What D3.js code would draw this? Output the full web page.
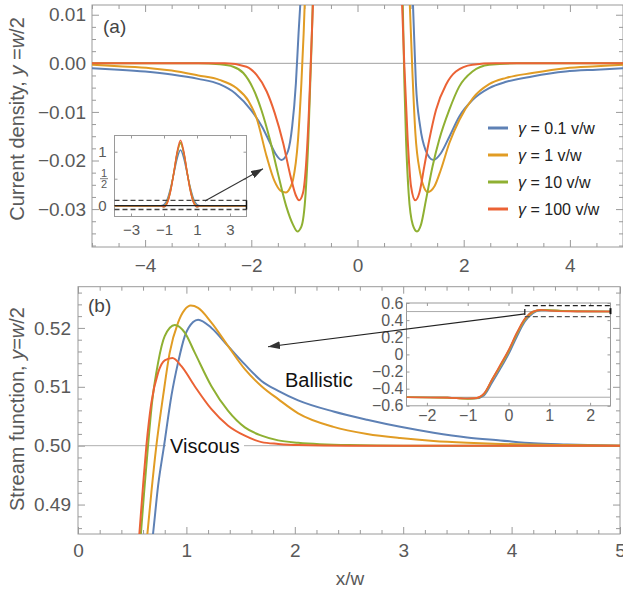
<!DOCTYPE html>
<meta charset="utf-8">
<script src="https://d3js.org/d3.v7.min.js"></script>
<style>
  body { margin: 0; background: #fff; }
  svg { display: block; font-family: "Liberation Sans", Arial, Helvetica, sans-serif; }
</style>
<body>
<svg id="chart" width="623" height="595"></svg>
<script>

// legend values (gamma in v/w) and Mathematica default colours
var gammas = ["0.1", "1", "10", "100"];
var colors = ["#5e81b5", "#e19c24", "#8fb032", "#eb6235"];

// (a) current density at y = w/2 : [x/w, j], left and right branches
var aBlueL = [[-5,-0.0010],[-4.5,-0.0013],[-4,-0.0017],[-3.5,-0.0023],[-3,-0.0032],[-2.6,-0.0043],[-2.3,-0.0062],
  [-2,-0.0097],[-1.8,-0.0130],[-1.65,-0.0163],[-1.55,-0.0185],[-1.43,-0.0199],[-1.31,-0.0181],[-1.23,-0.0130],
  [-1.16,-0.0041],[-1.11,0.0062],[-1.07,0.0135]];
var aBlueR = [[1.04,0.0135],[1.07,0.0045],[1.10,-0.0041],[1.18,-0.0130],[1.28,-0.0178],[1.43,-0.0199],[1.57,-0.0185],
  [1.73,-0.0151],[1.92,-0.0109],[2.17,-0.0075],[2.48,-0.0051],[2.8,-0.0038],[3.29,-0.0027],[3.92,-0.0017],
  [4.5,-0.0013],[5,-0.0010]];
var aOrangeL = [[-5,-0.0003],[-4.5,-0.0006],[-3.9,-0.0010],[-3.5,-0.0015],[-3,-0.0025],[-2.6,-0.0034],[-2.28,-0.0051],
  [-2.05,-0.0078],[-1.90,-0.0113],[-1.71,-0.0192],[-1.56,-0.0243],[-1.45,-0.0262],[-1.35,-0.0266],[-1.27,-0.0256],
  [-1.215,-0.0240],[-1.12,-0.0157],[-1.057,-0.0041],[-1.014,0.0062],[-0.99,0.0135]];
var aOrangeR = [[0.98,0.0135],[1.03,-0.0007],[1.09,-0.0144],[1.18,-0.0226],[1.25,-0.0255],[1.32,-0.0265],[1.45,-0.0253],
  [1.57,-0.0219],[1.73,-0.0164],[1.92,-0.0116],[2.17,-0.0072],[2.48,-0.0043],[2.8,-0.0030],[3.29,-0.0020],
  [3.92,-0.0010],[4.5,-0.0006],[5,-0.0003]];
var aGreenL = [[-5,0],[-3,0],[-2.6,-0.0002],[-2.34,-0.0007],[-2.15,-0.0020],[-1.97,-0.0051],[-1.81,-0.0096],
  [-1.65,-0.0157],[-1.50,-0.0226],[-1.34,-0.0295],[-1.215,-0.0332],[-1.133,-0.0346],[-1.057,-0.0336],
  [-0.977,-0.0267],[-0.926,-0.0157],[-0.89,-0.0041],[-0.858,0.0062],[-0.84,0.0135]];
var aGreenR = [[0.85,0.0135],[0.883,-0.0041],[0.914,-0.0157],[0.963,-0.0267],[1.04,-0.0332],[1.12,-0.0346],
  [1.196,-0.0332],[1.29,-0.0281],[1.414,-0.0212],[1.54,-0.0157],[1.728,-0.0096],[1.915,-0.0048],[2.165,-0.0017],
  [2.48,-0.0003],[3,0],[5,0]];
var aRedL = [[-5,0],[-2.5,0],[-2.09,-0.0007],[-1.90,-0.0024],[-1.71,-0.0058],[-1.56,-0.0102],[-1.40,-0.0164],
  [-1.26,-0.0233],[-1.164,-0.0271],[-1.10,-0.0282],[-1.027,-0.0267],[-0.963,-0.0199],[-0.914,-0.0096],
  [-0.883,-0.0007],[-0.85,0.0090],[-0.835,0.0135]];
var aRedR = [[0.835,0.0135],[0.883,-0.0007],[0.945,-0.0157],[1.008,-0.0253],[1.089,-0.0282],[1.164,-0.0267],
  [1.258,-0.0212],[1.352,-0.0157],[1.478,-0.0096],[1.666,-0.0044],[1.853,-0.0017],[2.165,-0.0003],[2.6,0],[5,0]];

// (a) inset: the whole profile, [x/w, j]
var iaBlue = [[-4,0],[-1.2,0],[-1,0.02],[-0.8,0.12],[-0.6,0.33],[-0.4,0.6],[-0.2,0.88],[0,1.03],
  [0.2,0.88],[0.4,0.6],[0.6,0.33],[0.8,0.12],[1,0.02],[1.2,0],[4,0]];
var iaOrange = [[-4,0],[-1.2,0],[-1,0],[-0.8,0.08],[-0.6,0.3],[-0.4,0.62],[-0.2,0.97],[0,1.15],
  [0.2,0.97],[0.4,0.62],[0.6,0.3],[0.8,0.08],[1,0],[1.2,0],[4,0]];
var iaGreen = [[-4,0],[-1.2,0],[-1,-0.02],[-0.8,0.06],[-0.6,0.28],[-0.4,0.62],[-0.2,0.98],[0,1.17],
  [0.2,0.98],[0.4,0.62],[0.6,0.28],[0.8,0.06],[1,-0.02],[1.2,0],[4,0]];
var iaRed = [[-4,0],[-1.2,0],[-1,-0.02],[-0.8,0.05],[-0.6,0.27],[-0.4,0.62],[-0.2,1.0],[0,1.21],
  [0.2,1.0],[0.4,0.62],[0.6,0.27],[0.8,0.05],[1,-0.02],[1.2,0],[4,0]];

// (b) stream function at y = w/2 : [x/w, psi]
var bBlue = [[0.645,0.478],[0.692,0.485],[0.739,0.4932],[0.794,0.5],[0.862,0.5085],[0.923,0.5141],[0.985,0.5186],
  [1.062,0.5210],[1.108,0.5214],[1.231,0.5200],[1.385,0.5169],[1.539,0.5138],[1.693,0.5110],[1.847,0.5093],
  [2.031,0.5077],[2.357,0.5058],[2.667,0.5044],[2.973,0.5032],[3.28,0.5022],[3.59,0.5014],[3.896,0.5009],
  [4.204,0.5004],[4.51,0.5002],[5,0.5]];
var bOrange = [[0.6,0.478],[0.64,0.485],[0.677,0.4921],[0.723,0.5],[0.785,0.5084],[0.846,0.5158],[0.923,0.5209],
  [0.985,0.5231],[1.04,0.5238],[1.108,0.5234],[1.231,0.5209],[1.385,0.5169],[1.539,0.5130],[1.693,0.5101],
  [1.847,0.5079],[2.031,0.5055],[2.357,0.5032],[2.667,0.5020],[2.97,0.5013],[3.28,0.5008],[3.59,0.5005],
  [3.9,0.5003],[4.5,0.5001],[5,0.5]];
var bGreen = [[0.555,0.478],[0.58,0.485],[0.615,0.4932],[0.646,0.5],[0.683,0.5073],[0.739,0.5141],[0.80,0.5186],
  [0.893,0.5205],[0.985,0.5192],[1.077,0.5158],[1.231,0.5101],[1.385,0.5059],[1.539,0.5031],[1.693,0.5017],
  [1.847,0.5009],[2.031,0.5005],[2.5,0.5001],[3,0.5],[5,0.5]];
var bRed = [[0.54,0.478],[0.566,0.485],[0.60,0.4932],[0.631,0.5],[0.677,0.5073],[0.739,0.5124],[0.80,0.5145],
  [0.871,0.5149],[0.954,0.5135],[1.077,0.5101],[1.231,0.5062],[1.385,0.5034],[1.539,0.5017],[1.693,0.5006],
  [1.847,0.5003],[2.031,0.5001],[2.5,0.5],[5,0.5]];

// (b) inset: whole profile
var ibBlue = [[-2.5,-0.5],[-1.5,-0.503],[-1,-0.512],[-0.8,-0.515],[-0.6,-0.48],[-0.4,-0.33],[-0.2,-0.17],[0,0],
  [0.2,0.2],[0.4,0.38],[0.6,0.48],[0.8,0.515],[1,0.516],[1.5,0.505],[2.5,0.5]];
var ibOrange = [[-2.5,-0.5],[-1.5,-0.505],[-1,-0.515],[-0.8,-0.51],[-0.6,-0.465],[-0.4,-0.3],[-0.2,-0.14],[0,0.03],
  [0.2,0.23],[0.4,0.4],[0.6,0.49],[0.8,0.52],[1,0.518],[1.5,0.505],[2.5,0.5]];
var ibGreen = [[-2.5,-0.5],[-1.5,-0.505],[-1,-0.52],[-0.8,-0.515],[-0.6,-0.46],[-0.4,-0.29],[-0.2,-0.13],[0,0.04],
  [0.2,0.24],[0.4,0.41],[0.6,0.5],[0.8,0.52],[1,0.515],[1.5,0.503],[2.5,0.5]];
var ibRed = [[-2.5,-0.5],[-1.5,-0.505],[-1,-0.515],[-0.8,-0.51],[-0.6,-0.455],[-0.4,-0.29],[-0.2,-0.12],[0,0.05],
  [0.2,0.25],[0.4,0.42],[0.6,0.5],[0.8,0.52],[1,0.51],[1.5,0.502],[2.5,0.5]];

// tick labels
var aXTicks = [-4, -2, 0, 2, 4];
var aYTicks = [0.01, 0, -0.01, -0.02, -0.03];
var aYLabels = ["0.01", "0.00", "\u22120.01", "\u22120.02", "\u22120.03"];
var bXTicks = [0, 1, 2, 3, 4, 5];
var bYTicks = [0.49, 0.50, 0.51, 0.52];
var iaXTicks = [-3, -1, 1, 3];
var iaYTicks = [0, 0.5, 1];
var ibXTicks = [-2, -1, 0, 1, 2];
var ibYTicks = [-0.6, -0.4, -0.2, 0, 0.2, 0.4, 0.6];

var svg = d3.select("#chart");
var gray = "#595959", frameCol = "#9a9a9a";

// scales
var ax = d3.scaleLinear().domain([-5, 5]).range([92, 623]);
var ay = d3.scaleLinear().domain([-0.0378, 0.012]).range([247, 5]);
var bx = d3.scaleLinear().domain([0, 5]).range([78, 620]);
var by = d3.scaleLinear().domain([0.485, 0.527]).range([534, 286.7]);
var iax = d3.scaleLinear().domain([-4, 4]).range([114.5, 246.5]);
var iay = d3.scaleLinear().domain([-0.2, 1.3]).range([216.5, 135.5]);
var ibx = d3.scaleLinear().domain([-2.5, 2.5]).range([406.5, 610.5]);
var iby = d3.scaleLinear().domain([-0.6, 0.6]).range([405.8, 303]);

var defs = svg.append("defs");
defs.append("marker").attr("id", "ah").attr("viewBox", "0 0 12 8")
  .attr("refX", 12).attr("refY", 4).attr("markerWidth", 12).attr("markerHeight", 8)
  .attr("markerUnits", "userSpaceOnUse").attr("orient", "auto")
  .append("path").attr("d", "M0,0L12,4L0,8Z").attr("fill", "#333");

function clip(id, x, y) {
  defs.append("clipPath").attr("id", id).append("rect")
    .attr("x", x.range()[0]).attr("y", y.range()[1])
    .attr("width", x.range()[1] - x.range()[0]).attr("height", y.range()[0] - y.range()[1]);
}

function minorOf(lo, hi, step, major) {
  return d3.range(lo, hi + step / 2, step).filter(function(v) {
    return !major.some(function(m) { return Math.abs(m - v) < 1e-9; });
  });
}

// frame with inward ticks on all four sides, labels bottom and left
function frame(x, y, o) {
  var g = svg.append("g");
  var x0 = x.range()[0], x1 = x.range()[1], y0 = y.range()[0], y1 = y.range()[1];
  g.append("rect").attr("x", x0).attr("y", y1).attr("width", x1 - x0).attr("height", y0 - y1)
    .attr("fill", o.fill || "none").attr("stroke", frameCol).attr("stroke-width", 1);
  function add(axis, tr, lab) {
    var s = g.append("g").attr("transform", tr).call(axis);
    s.attr("font-family", null).attr("font-size", o.fs).style("color", frameCol);
    s.selectAll("text").attr("fill", gray);
    s.select(".domain").remove();
    return s;
  }
  var bot = "translate(0," + y0 + ")", top = "translate(0," + y1 + ")";
  var lef = "translate(" + x0 + ",0)", rig = "translate(" + x1 + ",0)";
  o.xLab = add(d3.axisBottom(x).tickValues(o.xMaj).tickSize(-o.tMaj).tickPadding(o.xPad).tickFormat(o.xFmt), bot);
  add(d3.axisTop(x).tickValues(o.xMaj).tickSize(-o.tMaj).tickFormat(""), top);
  o.yLab = add(d3.axisLeft(y).tickValues(o.yMaj).tickSize(-o.tMaj).tickPadding(o.yPad).tickFormat(o.yFmt), lef);
  add(d3.axisRight(y).tickValues(o.yMaj).tickSize(-o.tMaj).tickFormat(""), rig);
  if (o.xMin) {
    add(d3.axisBottom(x).tickValues(o.xMin).tickSize(-o.tMin).tickFormat(""), bot);
    add(d3.axisTop(x).tickValues(o.xMin).tickSize(-o.tMin).tickFormat(""), top);
  }
  if (o.yMin) {
    add(d3.axisLeft(y).tickValues(o.yMin).tickSize(-o.tMin).tickFormat(""), lef);
    add(d3.axisRight(y).tickValues(o.yMin).tickSize(-o.tMin).tickFormat(""), rig);
  }
  return g;
}

function curves(sets, x, y, clipId, w) {
  var line = d3.line().x(function(d) { return x(d[0]); }).y(function(d) { return y(d[1]); })
    .curve(d3.curveMonotoneX);
  svg.append("g").attr("clip-path", "url(#" + clipId + ")")
    .selectAll("path").data(sets).join("path")
    .attr("d", function(d) { return line(d.pts); })
    .attr("fill", "none").attr("stroke", function(d) { return colors[d.k]; })
    .attr("stroke-width", w).attr("stroke-linejoin", "round");
}

function hline(x, y, v, col, w, dash, xa, xb) {
  svg.append("line").attr("x1", x(xa === undefined ? x.domain()[0] : xa)).attr("x2", x(xb === undefined ? x.domain()[1] : xb))
    .attr("y1", y(v)).attr("y2", y(v)).attr("stroke", col).attr("stroke-width", w)
    .attr("stroke-dasharray", dash || null);
}

clip("cA", ax, ay); clip("cB", bx, by); clip("cIA", iax, iay); clip("cIB", ibx, iby);

// ---------- panel (a) ----------
frame(ax, ay, { xMaj: aXTicks, xMin: minorOf(-5, 5, 0.5, aXTicks), yMaj: aYTicks,
  yMin: minorOf(-0.0375, 0.01, 0.0025, aYTicks), tMaj: 7, tMin: 4, fs: 19, xPad: 12, yPad: 6,
  xFmt: function(d) { return d < 0 ? "\u2212" + (-d) : d; },
  yFmt: function(d, i) { return aYLabels[i]; } });
hline(ax, ay, 0, "#a0a0a0", 1);
curves([{k:0,pts:aBlueL},{k:0,pts:aBlueR},{k:1,pts:aOrangeL},{k:1,pts:aOrangeR},
  {k:2,pts:aGreenL},{k:2,pts:aGreenR},{k:3,pts:aRedL},{k:3,pts:aRedR}], ax, ay, "cA", 2);

svg.append("text").attr("x", 103).attr("y", 33).attr("font-size", 19).attr("fill", "#444").text("(a)");
var ta = svg.append("text").attr("transform", "translate(24,119) rotate(-90)").attr("text-anchor", "middle")
  .attr("font-size", 20).attr("fill", gray);
ta.append("tspan").text("Current density, ");
ta.append("tspan").attr("font-style", "italic").text("y");
ta.append("tspan").text(" =");
ta.append("tspan").attr("font-style", "italic").text("w");
ta.append("tspan").text("/2");

// legend
var leg = svg.append("g").selectAll("g").data(gammas).join("g")
  .attr("transform", function(d, i) { return "translate(488," + (128 + i * 27) + ")"; });
leg.append("line").attr("x1", 0).attr("x2", 20).attr("stroke", function(d, i) { return colors[i]; })
  .attr("stroke-width", 3);
var lt = leg.append("text").attr("x", 30).attr("y", 5.5).attr("font-size", 16).attr("fill", "#222");
lt.append("tspan").attr("font-style", "italic").text("\u03b3");
lt.append("tspan").text(function(d) { return " = " + d + " v/w"; });

// inset (a)
var fa = frame(iax, iay, { fill: "#fff", xMaj: iaXTicks, yMaj: iaYTicks, tMaj: 3, fs: 15, xPad: 8, yPad: 8,
  xFmt: function(d) { return d < 0 ? "\u2212" + (-d) : d; },
  yFmt: function(d) { return d === 0.5 ? "" : d; } });
// 1/2 as a stacked fraction
var fr = svg.append("g").attr("transform", "translate(104," + iay(0.5) + ")").attr("fill", gray)
  .attr("font-size", 11).attr("text-anchor", "middle");
fr.append("text").attr("y", -2).text("1");
fr.append("line").attr("x1", -4).attr("x2", 4).attr("stroke", gray).attr("stroke-width", 0.8);
fr.append("text").attr("y", 9).text("2");
curves([{k:0,pts:iaBlue},{k:1,pts:iaOrange},{k:2,pts:iaGreen},{k:3,pts:iaRed}], iax, iay, "cIA", 1.5);
hline(iax, iay, 0, "#222", 1.2);
hline(iax, iay, 0.1, "#444", 1.3, "5,3");
hline(iax, iay, -0.07, "#444", 1.3, "5,3");
svg.append("line").attr("x1", iax(4)).attr("x2", iax(4)).attr("y1", iay(0.1)).attr("y2", iay(-0.07))
  .attr("stroke", "#111").attr("stroke-width", 1.5);
svg.append("line").attr("x1", iax(1.48)).attr("y1", iay(0.087)).attr("x2", ax(-1.78)).attr("y2", ay(-0.0217))
  .attr("stroke", "#333").attr("stroke-width", 1.2).attr("marker-end", "url(#ah)");

// ---------- panel (b) ----------
frame(bx, by, { xMaj: bXTicks, xMin: minorOf(0, 5, 0.2, bXTicks), yMaj: bYTicks,
  yMin: minorOf(0.486, 0.526, 0.002, bYTicks), tMaj: 7, tMin: 4, fs: 19, xPad: 10, yPad: 7,
  xFmt: d3.format("d"), yFmt: d3.format(".2f") });
hline(bx, by, 0.5, "#b0b0b0", 1);
svg.append("rect").attr("x", 166).attr("y", 436).attr("width", 78).attr("height", 20).attr("fill", "#fff");
svg.append("text").attr("x", 170).attr("y", 453).attr("font-size", 20).attr("fill", "#111").text("Viscous");
svg.append("text").attr("x", 285).attr("y", 387).attr("font-size", 20).attr("fill", "#111").text("Ballistic");
curves([{k:0,pts:bBlue},{k:1,pts:bOrange},{k:2,pts:bGreen},{k:3,pts:bRed}], bx, by, "cB", 2);

svg.append("text").attr("x", 88).attr("y", 312).attr("font-size", 19).attr("fill", "#444").text("(b)");
var tb = svg.append("text").attr("transform", "translate(24,409) rotate(-90)").attr("text-anchor", "middle")
  .attr("font-size", 20).attr("fill", gray);
tb.append("tspan").text("Stream function, ");
tb.append("tspan").attr("font-style", "italic").text("y");
tb.append("tspan").text("=");
tb.append("tspan").attr("font-style", "italic").text("w");
tb.append("tspan").text("/2");
svg.append("text").attr("x", 350).attr("y", 585).attr("text-anchor", "middle").attr("font-size", 19)
  .attr("fill", gray).text("x/w");

// inset (b)
frame(ibx, iby, { fill: "#fff", xMaj: ibXTicks, yMaj: ibYTicks, tMaj: 3, fs: 16, xPad: 4, yPad: 3,
  xFmt: function(d) { return d < 0 ? "\u2212" + (-d) : d; },
  yFmt: function(d) { return d === 0 ? "0" : (d < 0 ? "\u2212" + d3.format(".1f")(-d) : d3.format(".1f")(d)); } });
hline(ibx, iby, 0.5, "#aaa", 1);
hline(ibx, iby, -0.5, "#aaa", 1);
curves([{k:0,pts:ibBlue},{k:1,pts:ibOrange},{k:2,pts:ibGreen},{k:3,pts:ibRed}], ibx, iby, "cIB", 1.6);
hline(ibx, iby, 0.57, "#222", 1.3, "5,3", 0.4, 2.5);
hline(ibx, iby, 0.44, "#555", 1.3, "5,3", 0.4, 2.5);
svg.append("line").attr("x1", ibx(0.4)).attr("x2", ibx(0.4)).attr("y1", iby(0.53)).attr("y2", iby(0.46))
  .attr("stroke", "#111").attr("stroke-width", 1.2);
svg.append("line").attr("x1", ibx(2.5)).attr("x2", ibx(2.5)).attr("y1", iby(0.54)).attr("y2", iby(0.47))
  .attr("stroke", "#111").attr("stroke-width", 2);
svg.append("line").attr("x1", ibx(0.4)).attr("y1", iby(0.473)).attr("x2", bx(1.753)).attr("y2", by(0.5168))
  .attr("stroke", "#222").attr("stroke-width", 1.2).attr("marker-end", "url(#ah)");

</script>
</body>
